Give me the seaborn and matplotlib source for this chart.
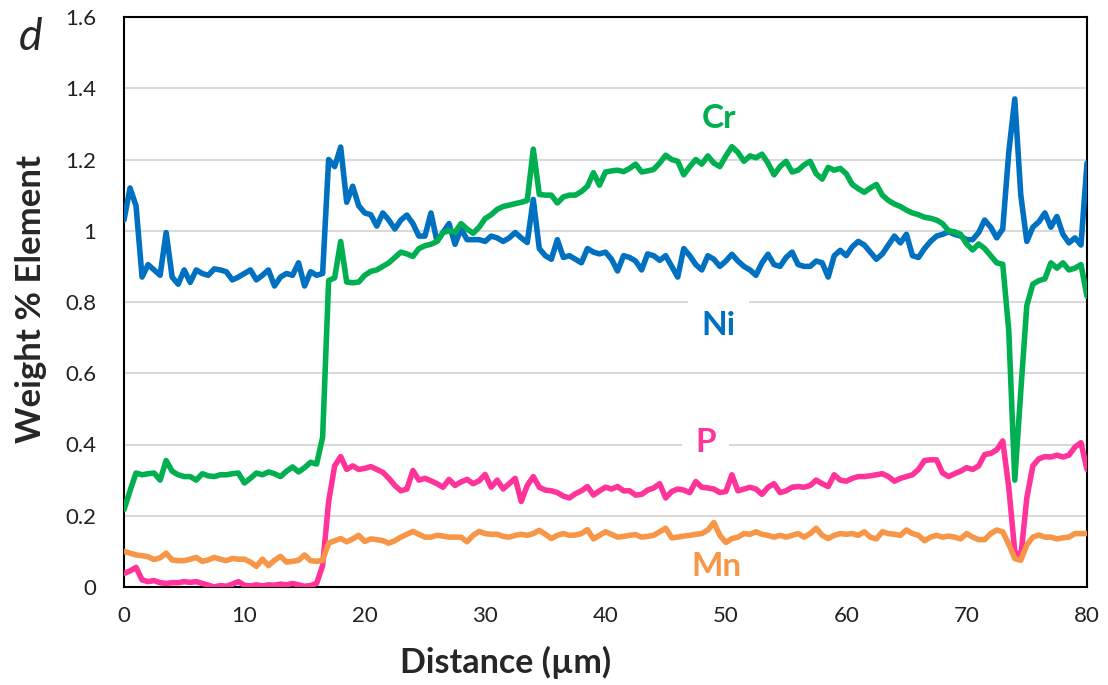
import numpy as np
import pandas as pd
import matplotlib
matplotlib.use("Agg")
import matplotlib.pyplot as plt
import seaborn as sns
from matplotlib.ticker import MultipleLocator, FuncFormatter

# sampling grid of the line scan (µm)
distance = np.arange(0, 80.01, 0.5)

ni = [1.03, 1.12, 1.07, 0.87, 0.905, 0.89, 0.875, 0.995, 0.87, 0.85,
      0.89, 0.855, 0.89, 0.88, 0.875, 0.893, 0.89, 0.885, 0.862, 0.87,
      0.88, 0.89, 0.862, 0.875, 0.89, 0.845, 0.87, 0.88, 0.875, 0.91,
      0.845, 0.885, 0.875, 0.88, 1.2, 1.18, 1.235, 1.08, 1.125, 1.07,
      1.05, 1.045, 1.013, 1.05, 1.03, 1.005, 1.03, 1.044, 1.02, 0.985,
      0.985, 1.05, 0.97, 0.995, 1.02, 0.962, 1.006, 0.975, 0.975, 0.975,
      0.97, 0.985, 0.98, 0.97, 0.98, 0.995, 0.98, 0.967, 1.088, 0.95,
      0.93, 0.92, 0.975, 0.925, 0.93, 0.92, 0.91, 0.95, 0.94, 0.935,
      0.94, 0.92, 0.887, 0.93, 0.925, 0.915, 0.89, 0.935, 0.93, 0.917,
      0.93, 0.9, 0.87, 0.95, 0.93, 0.905, 0.89, 0.93, 0.92, 0.9,
      0.915, 0.934, 0.915, 0.9, 0.89, 0.875, 0.91, 0.934, 0.905, 0.9,
      0.925, 0.94, 0.905, 0.9, 0.9, 0.915, 0.91, 0.87, 0.93, 0.945,
      0.93, 0.955, 0.97, 0.96, 0.94, 0.92, 0.935, 0.96, 0.985, 0.966,
      0.99, 0.93, 0.925, 0.95, 0.97, 0.985, 0.99, 0.997, 0.99, 0.985,
      0.975, 0.975, 0.995, 1.03, 1.01, 0.98, 1.005, 1.22, 1.37, 1.1,
      0.97, 1.01, 1.025, 1.05, 1.01, 1.04, 0.99, 0.966, 0.98, 0.96,
      1.19]

cr = [0.217, 0.27, 0.32, 0.315, 0.318, 0.32, 0.3, 0.355, 0.325, 0.315,
      0.31, 0.31, 0.3, 0.318, 0.312, 0.31, 0.315, 0.315, 0.318, 0.32,
      0.292, 0.305, 0.32, 0.315, 0.323, 0.318, 0.31, 0.325, 0.337, 0.323,
      0.335, 0.35, 0.345, 0.42, 0.86, 0.868, 0.97, 0.856, 0.854, 0.856,
      0.875, 0.886, 0.89, 0.9, 0.91, 0.925, 0.94, 0.935, 0.928, 0.95,
      0.958, 0.962, 0.97, 0.995, 1.0, 0.996, 1.02, 1.005, 0.993, 1.01,
      1.034, 1.045, 1.06, 1.068, 1.072, 1.076, 1.08, 1.085, 1.229, 1.102,
      1.1, 1.1, 1.078, 1.095, 1.1, 1.1, 1.11, 1.125, 1.163, 1.128,
      1.165, 1.168, 1.17, 1.166, 1.175, 1.187, 1.165, 1.168, 1.172, 1.19,
      1.212, 1.2, 1.195, 1.157, 1.18, 1.2, 1.187, 1.21, 1.19, 1.18,
      1.21, 1.236, 1.22, 1.195, 1.21, 1.205, 1.215, 1.19, 1.157, 1.18,
      1.195, 1.165, 1.17, 1.185, 1.195, 1.16, 1.145, 1.178, 1.17, 1.175,
      1.16, 1.13, 1.118, 1.108, 1.12, 1.13, 1.1, 1.085, 1.075, 1.068,
      1.058, 1.05, 1.045, 1.038, 1.035, 1.03, 1.02, 1.0, 0.997, 0.99,
      0.963, 0.946, 0.963, 0.95, 0.93, 0.91, 0.906, 0.72, 0.3, 0.55,
      0.79, 0.85, 0.86, 0.865, 0.91, 0.895, 0.91, 0.89, 0.895, 0.905,
      0.816]

p = [0.038, 0.045, 0.055, 0.02, 0.015, 0.018, 0.012, 0.01, 0.012, 0.012,
     0.015, 0.013, 0.015, 0.01, 0.005, 0.0, 0.004, 0.002, 0.008, 0.015,
     0.005, 0.003, 0.006, 0.003, 0.006, 0.005, 0.008, 0.006, 0.01, 0.006,
     0.002, 0.004, 0.01, 0.06, 0.24, 0.34, 0.366, 0.33, 0.34, 0.33,
     0.333, 0.338, 0.33, 0.322, 0.305, 0.285, 0.27, 0.275, 0.327, 0.3,
     0.305, 0.298, 0.29, 0.28, 0.302, 0.285, 0.295, 0.302, 0.29, 0.298,
     0.316, 0.28, 0.3, 0.275, 0.29, 0.305, 0.24, 0.285, 0.31, 0.28,
     0.272, 0.27, 0.265, 0.255, 0.25, 0.262, 0.27, 0.282, 0.258, 0.27,
     0.28, 0.275, 0.282, 0.27, 0.27, 0.258, 0.26, 0.272, 0.278, 0.29,
     0.25, 0.268, 0.275, 0.272, 0.265, 0.296, 0.28, 0.278, 0.275, 0.265,
     0.268, 0.315, 0.27, 0.275, 0.28, 0.275, 0.26, 0.28, 0.29, 0.265,
     0.27, 0.28, 0.282, 0.28, 0.285, 0.3, 0.29, 0.282, 0.315, 0.3,
     0.297, 0.305, 0.31, 0.31, 0.312, 0.315, 0.318, 0.31, 0.297, 0.305,
     0.31, 0.315, 0.33, 0.355, 0.357, 0.357, 0.32, 0.31, 0.318, 0.325,
     0.335, 0.33, 0.34, 0.372, 0.375, 0.385, 0.41, 0.28, 0.1, 0.085,
     0.25, 0.34, 0.36, 0.366, 0.365, 0.37, 0.365, 0.37, 0.393, 0.405,
     0.33]

mn = [0.1, 0.095, 0.09, 0.088, 0.085, 0.077, 0.082, 0.095, 0.076, 0.074,
      0.074, 0.078, 0.083, 0.072, 0.076, 0.083, 0.078, 0.074, 0.08, 0.078,
      0.078, 0.07, 0.058, 0.078, 0.06, 0.075, 0.086, 0.07, 0.072, 0.075,
      0.09, 0.074, 0.072, 0.075, 0.123, 0.13, 0.136, 0.127, 0.135, 0.145,
      0.128, 0.135, 0.133, 0.13, 0.123, 0.13, 0.14, 0.148, 0.156, 0.148,
      0.14, 0.14, 0.145, 0.143, 0.14, 0.14, 0.14, 0.127, 0.145, 0.156,
      0.15, 0.148, 0.148, 0.142, 0.14, 0.145, 0.148, 0.145, 0.15, 0.159,
      0.148, 0.136, 0.145, 0.15, 0.145, 0.146, 0.15, 0.161, 0.135, 0.145,
      0.155, 0.148, 0.14, 0.142, 0.145, 0.147, 0.14, 0.142, 0.145, 0.155,
      0.165, 0.138, 0.14, 0.143, 0.145, 0.148, 0.15, 0.16, 0.181, 0.145,
      0.125, 0.136, 0.14, 0.15, 0.148, 0.155, 0.148, 0.145, 0.14, 0.145,
      0.14, 0.145, 0.15, 0.14, 0.15, 0.165, 0.145, 0.136, 0.145, 0.15,
      0.148, 0.15, 0.145, 0.155, 0.14, 0.135, 0.155, 0.15, 0.148, 0.145,
      0.16, 0.15, 0.145, 0.13, 0.14, 0.145, 0.14, 0.143, 0.14, 0.135,
      0.15, 0.14, 0.133, 0.133, 0.15, 0.16, 0.155, 0.12, 0.08, 0.075,
      0.118, 0.14, 0.146, 0.14, 0.14, 0.135, 0.138, 0.14, 0.15, 0.15,
      0.15]

elements = ["Ni", "Cr", "P", "Mn"]
colors = {"Ni": "#0070C0", "Cr": "#00B050", "P": "#FF3399", "Mn": "#F79646"}
label_pos = {"Cr": (49.4, 1.315), "Ni": (49.4, 0.733), "P": (48.3, 0.405), "Mn": (49.2, 0.058)}

x_ticks = [0, 10, 20, 30, 40, 50, 60, 70, 80]
y_ticks = [0, 0.2, 0.4, 0.6, 0.8, 1.0, 1.2, 1.4, 1.6]

series = {"Ni": ni, "Cr": cr, "P": p, "Mn": mn}
df = pd.concat(
    [pd.DataFrame({"Distance": distance, "Weight": series[e], "Element": e}) for e in elements],
    ignore_index=True,
)

sns.set_style("white")
plt.rcParams["font.family"] = ["Lato", "DejaVu Sans"]

fig = plt.figure(figsize=(11.08, 6.85), dpi=100)
ax = fig.add_axes([124 / 1108, 1 - 587 / 685, (1087 - 124) / 1108, (587 - 17) / 685])

sns.lineplot(data=df, x="Distance", y="Weight", hue="Element", palette=colors,
             linewidth=4.0, legend=False, ax=ax, zorder=3, sort=False,
             solid_joinstyle="round", solid_capstyle="round")

ax.set_xlim(0, 80)
ax.set_ylim(0, 1.6)
ax.set_xticks(x_ticks)
ax.xaxis.set_minor_locator(MultipleLocator(5))
ax.set_yticks(y_ticks)
ax.yaxis.set_major_formatter(FuncFormatter(lambda v, _: f"{v:g}"))
ax.tick_params(axis="x", which="both", direction="out", length=6, width=1.5,
               color="black", labelsize=16, pad=8)
ax.tick_params(axis="y", length=0, labelsize=16, pad=20)
for lab in ax.get_xticklabels() + ax.get_yticklabels():
    lab.set_color("#222222")

ax.yaxis.grid(True, color="#D9D9D9", linewidth=1.5)
ax.xaxis.grid(False)
ax.set_axisbelow(True)
for s in ax.spines.values():
    s.set_color("black")
    s.set_linewidth(1.5)
    s.set_visible(True)

ax.set_xlabel("")
ax.set_ylabel("")

for e in elements:
    xx, yy = label_pos[e]
    ax.text(xx, yy, e, color=colors[e], fontsize=24, fontweight="bold",
            ha="center", va="center", zorder=2,
            bbox=dict(boxstyle="square,pad=0.4", fc="white", ec="none"))

fig.text(506 / 1108, 1 - 662 / 685, "Distance (µm)", fontsize=24.5, fontweight="bold",
         ha="center", va="center")
fig.text(31 / 1108, 1 - 299 / 685, "Weight % Element", fontsize=25, fontweight="bold",
         ha="center", va="center", rotation=90)
fig.text(31 / 1108, 1 - 38 / 685, "d", fontsize=32, style="italic",
         ha="center", va="center")

fig.savefig("out.png", dpi=100)
